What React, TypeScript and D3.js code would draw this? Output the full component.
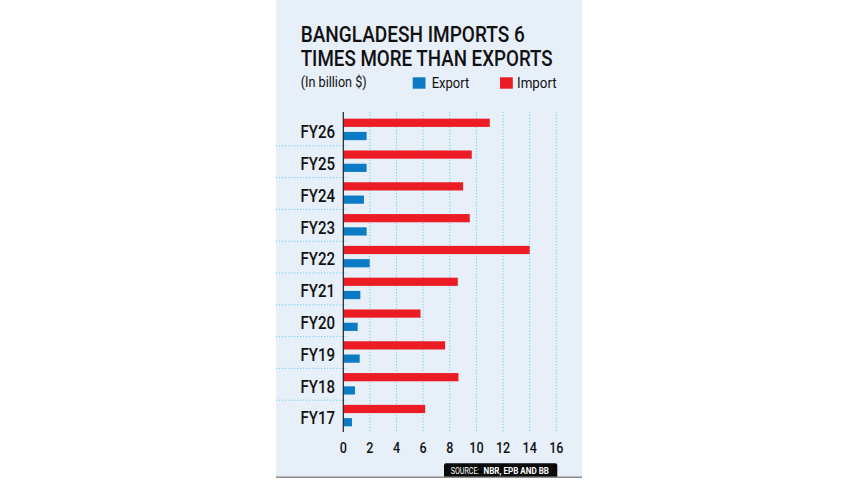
import React, {FC, useEffect, useRef} from 'react';
import * as d3 from 'd3';

// data (billion $)
const years = ['FY26', 'FY25', 'FY24', 'FY23', 'FY22', 'FY21', 'FY20', 'FY19', 'FY18', 'FY17'];
const exportValues = [1.75, 1.75, 1.55, 1.75, 1.98, 1.28, 1.08, 1.23, 0.88, 0.65];
const importValues = [11.0, 9.65, 9.0, 9.5, 14.0, 8.6, 5.8, 7.65, 8.65, 6.15];
const xTicks = [0, 2, 4, 6, 8, 10, 12, 14, 16];
const seriesNames = ['Import', 'Export'];

const width = 857,
  height = 482;

const colors: Record<string, string> = {Import: '#ec1c24', Export: '#0b7bc5'};
const font = 'Roboto, "Noto Sans", sans-serif';

const App: FC = () => {
  const ref = useRef<SVGSVGElement>(null);

  useEffect(() => {
    const svg = d3.select(ref.current);
    svg.selectAll('*').remove();

    // panel
    svg
      .append('rect')
      .attr('x', 276)
      .attr('y', 0)
      .attr('width', 306)
      .attr('height', 477)
      .attr('fill', '#e7eff9');

    const x = d3.scaleLinear().domain([0, 16]).range([343.3, 556.3]);
    const y = d3.scaleBand().domain(years).range([113.5, 431.5]).padding(0);
    const sub = d3
      .scaleBand()
      .domain(seriesNames)
      .range([0, y.bandwidth()])
      .paddingInner(0.38)
      .paddingOuter(0.39);

    // vertical dotted grid
    svg
      .append('g')
      .selectAll('line')
      .data(xTicks.filter(d => d > 0))
      .enter()
      .append('line')
      .attr('x1', d => x(d))
      .attr('x2', d => x(d))
      .attr('y1', 112)
      .attr('y2', 432)
      .attr('stroke', '#6fd0f0')
      .attr('stroke-width', 1)
      .attr('stroke-dasharray', '1.2 1.8');

    // horizontal dotted separators between years
    svg
      .append('g')
      .selectAll('line')
      .data(years.slice(1))
      .enter()
      .append('line')
      .attr('x1', 276)
      .attr('x2', 348)
      .attr('y1', d => (y(d) as number) + 0.5)
      .attr('y2', d => (y(d) as number) + 0.5)
      .attr('stroke', '#6fd0f0')
      .attr('stroke-width', 1)
      .attr('stroke-dasharray', '1.2 1.8');

    // bars
    const rows = years.map((yr, i) => ({
      year: yr,
      values: [
        {key: 'Import', value: importValues[i]},
        {key: 'Export', value: exportValues[i]},
      ],
    }));
    const groups = svg
      .append('g')
      .selectAll('g')
      .data(rows)
      .enter()
      .append('g')
      .attr('transform', d => `translate(0, ${y(d.year)})`);
    groups
      .selectAll('rect')
      .data(d => d.values)
      .enter()
      .append('rect')
      .attr('x', x(0))
      .attr('y', d => sub(d.key) as number)
      .attr('width', d => x(d.value) - x(0))
      .attr('height', sub.bandwidth())
      .attr('fill', d => colors[d.key]);

    // axis line
    svg
      .append('line')
      .attr('x1', x(0))
      .attr('x2', x(0))
      .attr('y1', 112)
      .attr('y2', 432)
      .attr('stroke', '#222')
      .attr('stroke-width', 1.2);

    // year labels
    svg
      .append('g')
      .selectAll('text')
      .data(years)
      .enter()
      .append('text')
      .attr(
        'transform',
        d => `translate(335, ${(y(d) as number) + y.bandwidth() / 2 + 8.7}) scale(0.86,1)`
      )
      .attr('text-anchor', 'end')
      .attr('font-family', font)
      .attr('font-weight', 500)
      .attr('font-size', 17.5)
      .attr('fill', '#111')
      .text(d => d);

    // x tick labels
    svg
      .append('g')
      .selectAll('text')
      .data(xTicks)
      .enter()
      .append('text')
      .attr('transform', d => `translate(${x(d)}, 453.3) scale(0.84,1)`)
      .attr('text-anchor', 'middle')
      .attr('font-family', font)
      .attr('font-weight', 500)
      .attr('font-size', 15)
      .attr('fill', '#111')
      .text(d => d);

    // title
    const title = [
      {text: 'BANGLADESH IMPORTS 6', y: 41.7, len: 224},
      {text: 'TIMES MORE THAN EXPORTS', y: 65.7, len: 252},
    ];
    svg
      .append('g')
      .selectAll('text')
      .data(title)
      .enter()
      .append('text')
      .attr('x', 300.7)
      .attr('y', d => d.y)
      .attr('textLength', d => d.len)
      .attr('lengthAdjust', 'spacingAndGlyphs')
      .attr('font-family', font)
      .attr('font-weight', 500)
      .attr('font-size', 22)
      .attr('fill', '#111')
      .text(d => d.text);

    svg
      .append('text')
      .attr('x', 300.7)
      .attr('y', 86.7)
      .attr('textLength', 66)
      .attr('lengthAdjust', 'spacingAndGlyphs')
      .attr('font-family', font)
      .attr('font-size', 14)
      .attr('fill', '#111')
      .text('(In billion $)');

    // legend
    const legend = [
      {key: 'Export', x: 412.7, tx: 431.7, len: 37.6},
      {key: 'Import', x: 500, tx: 517, len: 39.7},
    ];
    const lg = svg.append('g').selectAll('g').data(legend).enter().append('g');
    lg.append('rect')
      .attr('x', d => d.x)
      .attr('y', 77.3)
      .attr('width', 12.8)
      .attr('height', 11.4)
      .attr('fill', d => colors[d.key]);
    lg.append('text')
      .attr('x', d => d.tx)
      .attr('y', 88.3)
      .attr('textLength', d => d.len)
      .attr('lengthAdjust', 'spacingAndGlyphs')
      .attr('font-family', font)
      .attr('font-size', 14.5)
      .attr('fill', '#111')
      .text(d => d.key);

    // source
    svg
      .append('path')
      .attr('d', 'M444,477 V465.3 Q444,463.3 446,463.3 H555.3 Q557.3,463.3 557.3,465.3 V477 Z')
      .attr('fill', '#0a0a0a');
    const sourceParts = [
      {text: 'SOURCE:', x: 450.7, len: 28.5, weight: 400},
      {text: 'NBR, EPB AND BB', x: 483.5, len: 65.5, weight: 700},
    ];
    svg
      .append('g')
      .selectAll('text')
      .data(sourceParts)
      .enter()
      .append('text')
      .attr('font-family', font)
      .attr('font-weight', d => d.weight)
      .attr('font-size', 9.5)
      .attr('fill', '#fff')
      .text(d => d.text)
      .each(function (d) {
        // squeeze the text to the narrow width seen in the picture
        const natural = (this as SVGTextElement).getComputedTextLength() || d.len;
        d3.select(this).attr(
          'transform',
          `translate(${d.x}, 474) scale(${d.len / natural},1)`
        );
      });

    // bottom rule
    svg
      .append('line')
      .attr('x1', 276)
      .attr('x2', 582)
      .attr('y1', 477.3)
      .attr('y2', 477.3)
      .attr('stroke', '#8a8a8a')
      .attr('stroke-width', 1.5);
  }, []);

  return (
    <svg
      ref={ref}
      width={width}
      height={height}
      style={{position: 'absolute', left: 0, top: 0, background: '#fff'}}
    />
  );
};

export default App;
